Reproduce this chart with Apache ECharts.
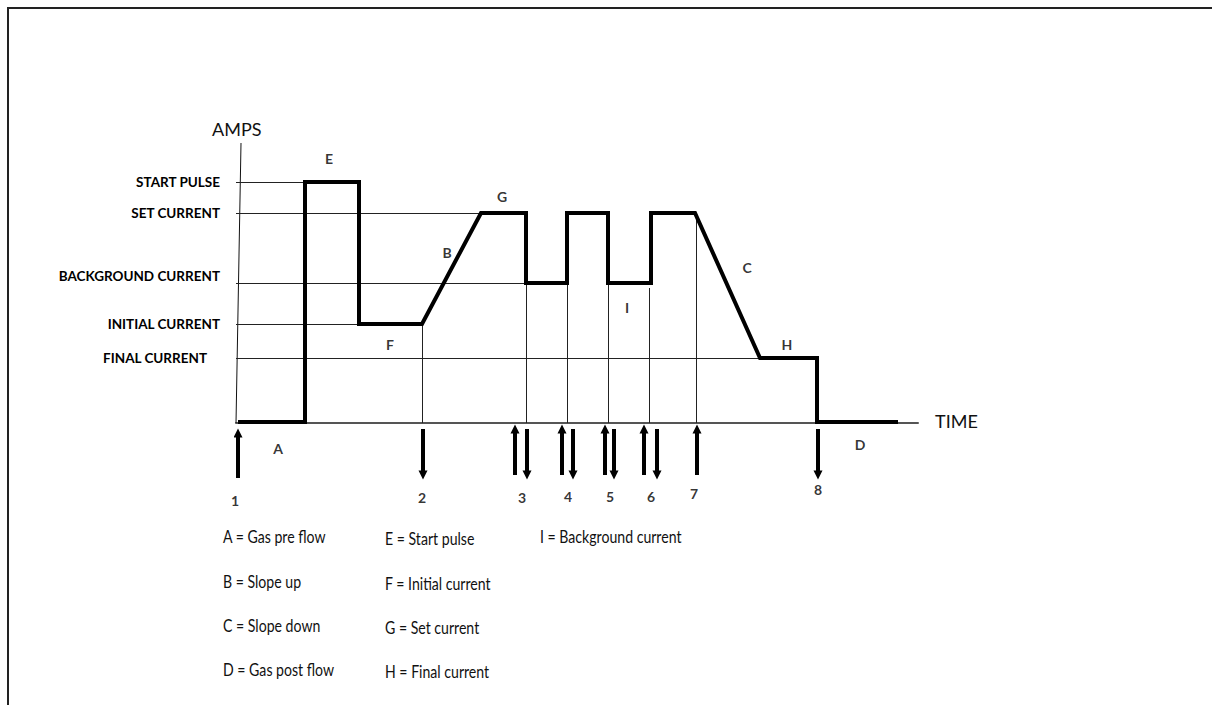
<!DOCTYPE html>
<html>
<head>
<meta charset="utf-8">
<script src="https://cdn.jsdelivr.net/npm/echarts@6/dist/echarts.min.js"></script>
<style>
  html, body { margin: 0; padding: 0; background: #fff; }
  #main { position: absolute; left: 0; top: 0; width: 1212px; height: 705px; }
  #frame { position: absolute; left: 7px; top: 7px; width: 1220px; height: 720px;
           border-top: 2px solid #222; border-left: 2px solid #222; pointer-events: none; }
</style>
</head>
<body>
<div id="main"></div>
<div id="frame"></div>
<script>
// welding sequence, time in arbitrary units, amps in arbitrary units
var levelNames = ['START PULSE', 'SET CURRENT', 'BACKGROUND CURRENT', 'INITIAL CURRENT', 'FINAL CURRENT'];
var levelValues = [241, 210, 140, 99, 65];
var levelEnds = [69, 245, 290, 123, 524];

var traceTime = [2, 69, 69, 123, 123, 186, 245, 290, 290, 331, 331, 372, 372, 415, 415, 459, 524, 581, 581, 662];
var traceAmps = [1, 1, 241, 241, 99, 99, 210, 210, 140, 140, 210, 210, 140, 140, 210, 210, 65, 65, 1, 1];

var dropTimes = [186, 290, 331, 372, 413, 460];
var dropFrom = [99, 140, 140, 140, 135, 210];

var segLetters = ['E', 'G', 'B', 'F', 'I', 'C', 'H', 'A', 'D'];
var segTime = [93, 266, 211, 154, 391, 511, 551, 42, 624];
var segAmps = [265, 227, 171, 79, 116, 156, 79, -25, -21];

var upArrows = [2, 279, 326, 369, 408, 461];
var downArrows = [187, 291, 337, 378, 421, 582];
var eventNames = ['1', '2', '3', '4', '5', '6', '7', '8'];
var eventTime = [-1, 186, 286, 332, 374, 415, 458, 582];
var eventAmps = [-77, -74, -74, -73, -73, -73, -70, -66];

var legendCols = [
    ['A = Gas pre flow', 'B = Slope up', 'C = Slope down', 'D = Gas post flow'],
    ['E = Start pulse', 'F = Initial current', 'G = Set current', 'H = Final current'],
    ['I = Background current']
];

var myChart = echarts.init(document.getElementById('main'), null, {renderer: 'svg'});

var refLines = [];
levelValues.forEach(function (v, i) {
    refLines.push({coords: [[0, v], [levelEnds[i], v]]});
});
dropTimes.forEach(function (t, i) {
    refLines.push({coords: [[t, dropFrom[i]], [t, 0]]});
});

var arrows = [];
upArrows.forEach(function (t, i) {
    // first arrow sits a bit lower than the rest
    var lo = i === 0 ? -55 : -52, hi = i === 0 ? -10 : -6;
    arrows.push({coords: [[t, lo], [t, hi]]});
});
downArrows.forEach(function (t) {
    arrows.push({coords: [[t, -6], [t, -52]]});
});

var legendX = [223, 385, 540];
var legendY = [539, 584, 628, 672];
var graphics = [];
legendCols.forEach(function (col, c) {
    col.forEach(function (txt, r) {
        graphics.push({
            type: 'text', x: legendX[c], y: legendY[r] - 11 + (c === 1 ? 2 : 0),
            scaleX: 0.83,
            style: {text: txt, font: '17px Lato', fill: '#111'}
        });
    });
});
graphics.push({type: 'text', left: 212, top: 120, style: {text: 'AMPS', font: '18px Lato', fill: '#111'}});
graphics.push({type: 'text', left: 935, top: 412, style: {text: 'TIME', font: '18px Lato', fill: '#111'}});

var boldLabel = {fontFamily: 'Lato', fontWeight: 'bold', fontSize: 13.5, color: '#000'};

var option = {
    animation: false,
    backgroundColor: '#fff',
    graphic: graphics,
    grid: {left: 236, top: 143, width: 682, height: 380},
    xAxis: {
        type: 'value', min: 0, max: 682,
        axisLine: {onZero: true, lineStyle: {color: '#555', width: 2}},
        axisTick: {show: false},
        axisLabel: {show: false},
        splitLine: {show: false}
    },
    yAxis: {
        type: 'value', min: -100, max: 280,
        axisLine: {show: false},
        axisTick: {show: false},
        splitLine: {show: false},
        axisLabel: {
            customValues: levelValues,
            margin: 16,
            color: '#000',
            fontFamily: 'Lato',
            fontWeight: 'bold',
            fontSize: 13.5,
            formatter: function (v) {
                var name = levelNames[levelValues.indexOf(v)];
                if (name === 'BACKGROUND CURRENT') return '{up|' + name + '}';
                if (name === 'FINAL CURRENT') return '{left|' + name + '}';
                return name;
            },
            rich: {
                up: Object.assign({padding: [0, 0, 14, 0]}, boldLabel),
                left: Object.assign({padding: [0, 13, 0, 0]}, boldLabel)
            }
        }
    },
    series: [
        {
            // slanted amps axis
            type: 'lines', coordinateSystem: 'cartesian2d',
            data: [{coords: [[5, 280], [0, 0]]}],
            lineStyle: {color: '#111', width: 1, opacity: 1}
        },
        {
            type: 'lines', coordinateSystem: 'cartesian2d',
            data: refLines,
            lineStyle: {color: '#222', width: 1, opacity: 1}
        },
        {
            type: 'line',
            data: traceTime.map(function (t, i) { return [t, traceAmps[i]]; }),
            symbol: 'none',
            lineStyle: {color: '#000', width: 4, join: 'miter'}
        },
        {
            type: 'lines', coordinateSystem: 'cartesian2d',
            data: arrows,
            symbol: ['none', 'triangle'],
            symbolSize: [0, 9],
            lineStyle: {color: '#000', width: 4, opacity: 1}
        },
        {
            type: 'scatter', clip: false, symbolSize: 0,
            data: segLetters.map(function (s, i) { return {value: [segTime[i], segAmps[i]], name: s}; }),
            label: Object.assign({show: true, position: 'inside', formatter: '{b}'}, boldLabel, {fontSize: 14})
        },
        {
            type: 'scatter', clip: false, symbolSize: 0,
            data: eventNames.map(function (s, i) { return {value: [eventTime[i], eventAmps[i]], name: s}; }),
            label: Object.assign({show: true, position: 'inside', formatter: '{b}'}, boldLabel, {fontSize: 14})
        }
    ]
};
myChart.setOption(option);
</script>
</body>
</html>
